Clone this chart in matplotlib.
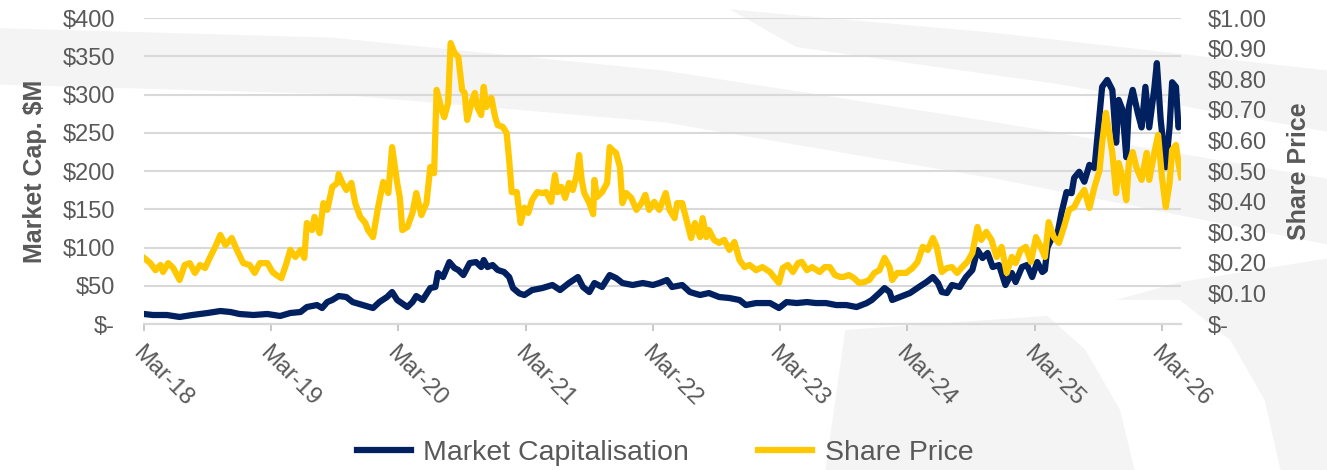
import matplotlib
matplotlib.use("Agg")
import matplotlib.pyplot as plt
from matplotlib.patches import Polygon

plt.rcParams['font.family'] = ['Liberation Sans', 'DejaVu Sans']

# share price ($), decimal year
sp_year = [2018.17, 2018.22, 2018.26, 2018.30, 2018.32, 2018.36, 2018.40, 2018.45, 2018.49, 2018.53,
           2018.57, 2018.61, 2018.65, 2018.69, 2018.73, 2018.77, 2018.81, 2018.86, 2018.90, 2018.95,
           2019.00, 2019.04, 2019.08, 2019.14, 2019.18, 2019.21, 2019.25, 2019.29, 2019.32, 2019.36,
           2019.40, 2019.43, 2019.45, 2019.49, 2019.51, 2019.55, 2019.58, 2019.61, 2019.65, 2019.69,
           2019.70, 2019.73, 2019.76, 2019.80, 2019.83, 2019.87, 2019.91, 2019.93, 2019.97, 2020.01,
           2020.05, 2020.09, 2020.12, 2020.16, 2020.18, 2020.20, 2020.24, 2020.28, 2020.31, 2020.35,
           2020.39, 2020.42, 2020.45, 2020.47, 2020.51, 2020.53, 2020.56, 2020.58, 2020.61, 2020.64,
           2020.67, 2020.69, 2020.71, 2020.75, 2020.77, 2020.79, 2020.82, 2020.84, 2020.86, 2020.90,
           2020.93, 2020.95, 2020.99, 2021.02, 2021.04, 2021.06, 2021.10, 2021.13, 2021.16, 2021.19,
           2021.22, 2021.26, 2021.30, 2021.33, 2021.37, 2021.40, 2021.42, 2021.45, 2021.48, 2021.51,
           2021.54, 2021.57, 2021.59, 2021.61, 2021.63, 2021.67, 2021.70, 2021.71, 2021.73, 2021.77,
           2021.81, 2021.83, 2021.85, 2021.88, 2021.91, 2021.93, 2021.96, 2022.00, 2022.04, 2022.08,
           2022.11, 2022.14, 2022.18, 2022.22, 2022.27, 2022.30, 2022.34, 2022.36, 2022.40, 2022.43,
           2022.47, 2022.50, 2022.54, 2022.56, 2022.59, 2022.61, 2022.65, 2022.69, 2022.73, 2022.77,
           2022.81, 2022.85, 2022.89, 2022.93, 2022.98, 2023.03, 2023.09, 2023.12, 2023.16, 2023.19,
           2023.23, 2023.27, 2023.31, 2023.34, 2023.38, 2023.42, 2023.48, 2023.52, 2023.56, 2023.60,
           2023.64, 2023.67, 2023.71, 2023.75, 2023.79, 2023.83, 2023.87, 2023.91, 2023.95, 2023.99,
           2024.03, 2024.05, 2024.09, 2024.13, 2024.16, 2024.21, 2024.25, 2024.29, 2024.33, 2024.37,
           2024.40, 2024.42, 2024.44, 2024.48, 2024.52, 2024.56, 2024.60, 2024.64, 2024.68, 2024.72,
           2024.75, 2024.79, 2024.83, 2024.87, 2024.91, 2024.95, 2024.99, 2025.02, 2025.06, 2025.10,
           2025.14, 2025.18, 2025.22, 2025.25, 2025.28, 2025.32, 2025.36, 2025.40, 2025.44, 2025.48,
           2025.52, 2025.56, 2025.60, 2025.64, 2025.68, 2025.70, 2025.73, 2025.76, 2025.78, 2025.81,
           2025.83, 2025.86, 2025.89, 2025.91, 2025.94, 2025.97, 2026.01, 2026.05, 2026.07, 2026.11,
           2026.14, 2026.17, 2026.20, 2026.23, 2026.25, 2026.28, 2026.30, 2026.32]
sp_price = [0.216, 0.199, 0.176, 0.193, 0.170, 0.199, 0.183, 0.144, 0.193, 0.199,
            0.167, 0.193, 0.183, 0.219, 0.252, 0.291, 0.258, 0.281, 0.242, 0.199,
            0.193, 0.167, 0.199, 0.199, 0.170, 0.160, 0.150, 0.199, 0.242, 0.219,
            0.242, 0.216, 0.330, 0.307, 0.350, 0.297, 0.395, 0.373, 0.448, 0.461,
            0.490, 0.461, 0.438, 0.461, 0.395, 0.350, 0.330, 0.307, 0.284, 0.382,
            0.464, 0.428, 0.578, 0.461, 0.415, 0.307, 0.317, 0.363, 0.428, 0.356,
            0.395, 0.513, 0.493, 0.765, 0.699, 0.676, 0.722, 0.918, 0.886, 0.873,
            0.765, 0.755, 0.667, 0.732, 0.755, 0.709, 0.683, 0.775, 0.709, 0.739,
            0.676, 0.650, 0.644, 0.624, 0.536, 0.431, 0.431, 0.330, 0.380, 0.363,
            0.405, 0.431, 0.428, 0.431, 0.399, 0.487, 0.431, 0.448, 0.412, 0.461,
            0.438, 0.487, 0.552, 0.471, 0.428, 0.395, 0.359, 0.471, 0.415, 0.431,
            0.461, 0.578, 0.569, 0.559, 0.513, 0.395, 0.428, 0.412, 0.373, 0.395,
            0.422, 0.373, 0.399, 0.373, 0.428, 0.373, 0.346, 0.395, 0.395, 0.346,
            0.281, 0.330, 0.284, 0.346, 0.284, 0.307, 0.275, 0.265, 0.275, 0.242,
            0.268, 0.209, 0.186, 0.193, 0.176, 0.186, 0.170, 0.154, 0.134, 0.183,
            0.193, 0.170, 0.199, 0.203, 0.176, 0.186, 0.170, 0.186, 0.186, 0.160,
            0.154, 0.154, 0.160, 0.150, 0.134, 0.137, 0.144, 0.167, 0.176, 0.216,
            0.186, 0.144, 0.167, 0.167, 0.167, 0.183, 0.203, 0.252, 0.242, 0.281,
            0.252, 0.209, 0.170, 0.183, 0.186, 0.167, 0.186, 0.203, 0.232, 0.317,
            0.275, 0.301, 0.275, 0.219, 0.252, 0.167, 0.219, 0.199, 0.242, 0.252,
            0.203, 0.284, 0.250, 0.219, 0.333, 0.284, 0.265, 0.317, 0.373, 0.382,
            0.415, 0.438, 0.379, 0.448, 0.503, 0.592, 0.690, 0.611, 0.559, 0.428,
            0.526, 0.480, 0.405, 0.526, 0.562, 0.510, 0.471, 0.559, 0.471, 0.559,
            0.618, 0.480, 0.382, 0.461, 0.569, 0.585, 0.526, 0.480]

# market capitalisation ($M), decimal year
mc_year = [2018.17, 2018.24, 2018.35, 2018.45, 2018.55, 2018.67, 2018.77, 2018.85, 2018.92, 2019.03,
           2019.14, 2019.24, 2019.32, 2019.40, 2019.45, 2019.53, 2019.57, 2019.61, 2019.65, 2019.70,
           2019.76, 2019.81, 2019.89, 2019.97, 2020.02, 2020.08, 2020.12, 2020.16, 2020.24, 2020.28,
           2020.31, 2020.36, 2020.42, 2020.46, 2020.48, 2020.52, 2020.57, 2020.61, 2020.64, 2020.68,
           2020.73, 2020.78, 2020.82, 2020.84, 2020.87, 2020.91, 2020.95, 2021.00, 2021.04, 2021.07,
           2021.12, 2021.16, 2021.22, 2021.30, 2021.38, 2021.44, 2021.51, 2021.58, 2021.62, 2021.67,
           2021.71, 2021.77, 2021.83, 2021.88, 2021.93, 2022.01, 2022.09, 2022.17, 2022.22, 2022.28,
           2022.32, 2022.40, 2022.46, 2022.54, 2022.61, 2022.69, 2022.77, 2022.85, 2022.90, 2022.98,
           2023.09, 2023.16, 2023.22, 2023.30, 2023.38, 2023.45, 2023.53, 2023.61, 2023.69, 2023.77,
           2023.85, 2023.89, 2023.95, 2023.99, 2024.03, 2024.05, 2024.11, 2024.19, 2024.26, 2024.32,
           2024.37, 2024.41, 2024.44, 2024.48, 2024.52, 2024.58, 2024.63, 2024.68, 2024.72, 2024.76,
           2024.80, 2024.84, 2024.89, 2024.94, 2024.99, 2025.02, 2025.07, 2025.11, 2025.15, 2025.19,
           2025.23, 2025.25, 2025.27, 2025.31, 2025.35, 2025.38, 2025.42, 2025.46, 2025.48, 2025.52,
           2025.56, 2025.60, 2025.64, 2025.67, 2025.70, 2025.74, 2025.78, 2025.81, 2025.83, 2025.86,
           2025.89, 2025.91, 2025.94, 2025.98, 2026.01, 2026.04, 2026.07, 2026.11, 2026.13, 2026.16,
           2026.20, 2026.23, 2026.25, 2026.28, 2026.30, 2026.32]
mc_value = [13.1, 11.8, 11.8, 9.2, 11.8, 14.4, 17.0, 15.7, 13.1, 11.8,
            13.1, 10.5, 14.4, 15.7, 22.2, 24.8, 20.9, 28.7, 31.4, 36.6,
            35.3, 28.7, 24.8, 20.9, 28.7, 35.3, 41.8, 31.4, 22.2, 28.7,
            36.6, 31.4, 47.0, 48.4, 66.7, 61.4, 81.0, 73.2, 70.6, 64.0,
            79.7, 81.0, 74.5, 83.6, 74.5, 77.1, 70.6, 68.0, 61.4, 47.0,
            40.0, 37.9, 44.4, 47.0, 51.0, 44.4, 53.6, 61.4, 48.4, 41.8,
            53.6, 48.4, 64.0, 60.1, 53.6, 51.0, 53.6, 51.0, 53.6, 57.5,
            48.4, 51.0, 41.8, 37.9, 40.5, 35.3, 34.0, 31.4, 24.8, 27.4,
            27.4, 20.9, 28.7, 27.4, 28.7, 27.4, 27.4, 24.8, 24.8, 22.2,
            27.4, 31.4, 40.5, 47.0, 41.8, 31.4, 35.3, 40.5, 48.4, 54.9,
            61.4, 53.6, 41.8, 40.5, 51.0, 48.4, 61.4, 70.6, 96.7, 86.3,
            92.8, 74.5, 77.1, 51.0, 66.7, 54.9, 74.5, 77.1, 61.4, 81.0,
            68.0, 70.6, 100.0, 114.0, 119.0, 145.0, 172.5, 171.0, 191.0, 199.0,
            186.0, 208.0, 204.0, 257.0, 310.0, 319.0, 306.0, 237.0, 293.0, 280.0,
            218.0, 284.0, 306.0, 276.0, 257.0, 310.0, 257.0, 308.0, 341.0, 267.0,
            205.0, 257.0, 316.0, 310.0, 257.0, 265.0]

tick_years = [2018.17, 2019.17, 2020.17, 2021.17, 2022.17, 2023.17, 2024.17, 2025.17, 2026.17]
tick_labels = ['Mar-18', 'Mar-19', 'Mar-20', 'Mar-21', 'Mar-22', 'Mar-23', 'Mar-24', 'Mar-25', 'Mar-26']
mc_ticks = [0, 50, 100, 150, 200, 250, 300, 350, 400]
mc_labels = ['$-', '$50', '$100', '$150', '$200', '$250', '$300', '$350', '$400']
sp_ticks = [0, 0.1, 0.2, 0.3, 0.4, 0.5, 0.6, 0.7, 0.8, 0.9, 1.0]
sp_labels = ['$-', '$0.10', '$0.20', '$0.30', '$0.40', '$0.50', '$0.60', '$0.70', '$0.80', '$0.90', '$1.00']

NAVY = '#002060'
GOLD = '#FFC800'
GREY = '#595959'
GRID = '#d9d9d9'

fig = plt.figure(figsize=(13.27, 4.70), dpi=100)

# faint background swooshes (figure fractions), kept behind the axes
bg = '#f4f4f4'
gray_shapes = [
    [(0.0, 0.94), (0.25, 0.92), (0.5, 0.85), (0.75, 0.74), (1.0, 0.62), (1.0, 0.48),
     (0.75, 0.62), (0.5, 0.74), (0.25, 0.80), (0.0, 0.82)],
    [(0.55, 0.98), (0.75, 0.93), (1.0, 0.85), (1.0, 0.72), (0.8, 0.82), (0.6, 0.90)],
    [(0.637, 0.298), (0.622, 0.0), (1.0, 0.0), (1.0, 0.45), (0.89, 0.40), (0.80, 0.33)],
]
for pts in gray_shapes:
    fig.add_artist(Polygon(pts, closed=True, transform=fig.transFigure,
                           facecolor=bg, edgecolor='none', zorder=-3))
white_arc = [(0.776, 0.362), (0.818, 0.255), (0.844, 0.128), (0.855, 0.0),
             (0.965, 0.0), (0.953, 0.149), (0.927, 0.277), (0.889, 0.362)]
fig.add_artist(Polygon(white_arc, closed=True, transform=fig.transFigure,
                       facecolor='white', edgecolor='none', zorder=-2))

ax1 = fig.add_axes([0.1085, 0.3106, 0.7815, 0.6511])
ax1.set_facecolor('none')
ax2 = ax1.twinx()

ax1.plot(mc_year, mc_value, color=NAVY, lw=4.5, solid_joinstyle='round', label='Market Capitalisation')
ax2.plot(sp_year, sp_price, color=GOLD, lw=4.5, solid_joinstyle='round', label='Share Price')

ax1.set_xlim(2018.17, 2026.32)
ax1.set_ylim(0, 400)
ax2.set_ylim(0, 1.0)

ax1.set_yticks(mc_ticks)
ax1.set_yticklabels(mc_labels)
ax2.set_yticks(sp_ticks)
ax2.set_yticklabels(sp_labels)
ax1.set_xticks(tick_years)
ax1.set_xticklabels(tick_labels, rotation=-45, ha='left', va='top', rotation_mode='anchor')

ax1.yaxis.grid(True, color=GRID, lw=1.5)
ax1.set_axisbelow(True)

for a in (ax1, ax2):
    for s in ('top', 'left', 'right'):
        a.spines[s].set_visible(False)
    a.spines['bottom'].set_color(GRID)
    a.spines['bottom'].set_linewidth(1.5)

ax1.tick_params(axis='y', length=0, pad=21, labelsize=17, labelcolor=GREY)
ax2.tick_params(axis='y', length=0, pad=19, labelsize=17, labelcolor=GREY)
ax1.tick_params(axis='x', length=5, width=1.2, color='#bfbfbf', pad=8, labelsize=17, labelcolor=GREY)

fig.text(0.026, 0.636, 'Market Cap. $M', rotation=90, ha='center', va='center',
         fontsize=18, fontweight='bold', color=GREY)
fig.text(0.979, 0.636, 'Share Price', rotation=90, ha='center', va='center',
         fontsize=18, fontweight='bold', color=GREY)

h1, l1 = ax1.get_legend_handles_labels()
h2, l2 = ax2.get_legend_handles_labels()
fig.legend(h1 + h2, l1 + l2, loc='center', bbox_to_anchor=(0.501, 0.036), ncol=2,
           frameon=False, fontsize=20.5, labelcolor=GREY, handlelength=1.9,
           handletextpad=0.45, columnspacing=2.4)

fig.savefig('out.png', dpi=100)
